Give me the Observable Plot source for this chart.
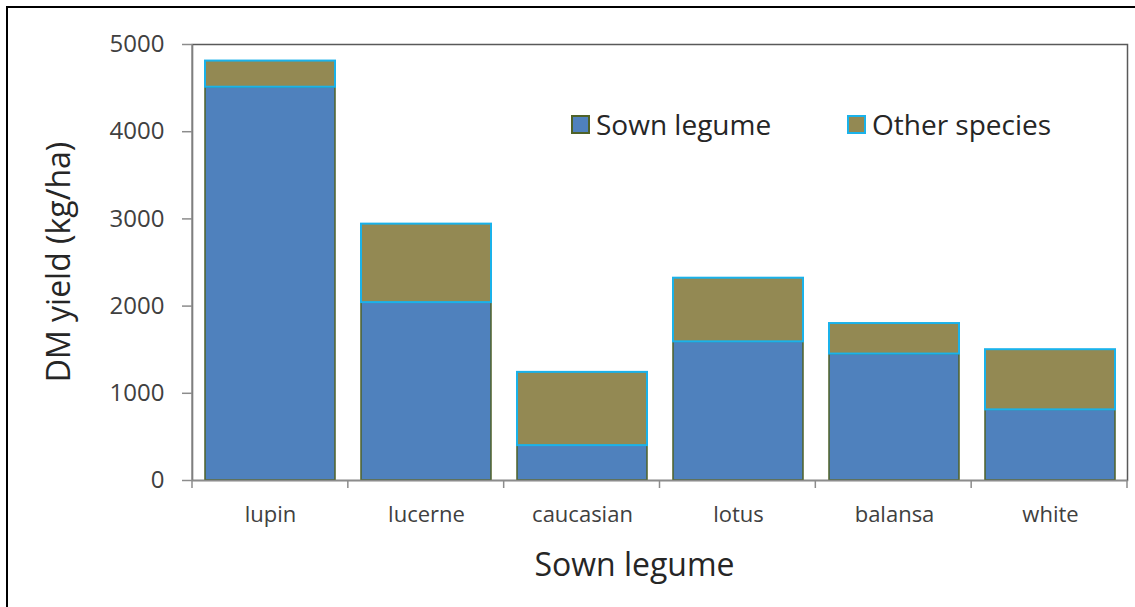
<!DOCTYPE html>
<html>
<head>
<meta charset="utf-8">
<script src="https://cdn.jsdelivr.net/npm/d3@7"></script>
<script src="https://cdn.jsdelivr.net/npm/@observablehq/plot@0.6"></script>
<style>
  body { margin: 0; background: #fff; font-family: "Open Sans", sans-serif; }
  #wrap { position: relative; width: 1135px; height: 607px; overflow: hidden; background: #fff; }
  #outer { position: absolute; left: 6px; top: 6px; width: 1160px; height: 640px; border: 2px solid #000; box-sizing: border-box; pointer-events: none; }
  #chart { position: absolute; left: 0; top: 0; }
  .leg { position: absolute; display: flex; align-items: center; font-size: 28px; color: #262626; white-space: nowrap; }
  .sw { width: 15px; height: 15px; margin-right: 6px; box-sizing: content-box; }
</style>
</head>
<body>
<div id="wrap">
  <div id="chart"></div>
  <div id="outer"></div>
</div>
<script>
const categories = ["lupin", "lucerne", "caucasian", "lotus", "balansa", "white"];
const sownLegume = [4510, 2040, 400, 1590, 1450, 810];
const otherSpecies = [300, 900, 840, 730, 350, 690];
const yTicks = [0, 1000, 2000, 3000, 4000, 5000];
const seriesNames = ["Sown legume", "Other species"];
const fillColors = ["#4F81BD", "#938953"];
const strokeColors = ["#4F6228", "#1AB2EA"];
const xTitle = "Sown legume";
const yTitle = "DM yield (kg/ha)";

// stacked table
const sownRows = categories.map((c, i) => ({cat: c, y1: 0, y2: sownLegume[i]}));
const otherRows = categories.map((c, i) => ({cat: c, y1: sownLegume[i], y2: sownLegume[i] + otherSpecies[i]}));

const chart = Plot.plot({
  width: 1135,
  height: 607,
  marginLeft: 192,
  marginRight: 8,
  marginTop: 44,
  marginBottom: 127,
  style: {fontFamily: '"Open Sans", sans-serif', background: "transparent"},
  x: {domain: categories, paddingInner: 0.167, paddingOuter: 0.08, axis: null},
  y: {domain: [0, 5000], axis: null},
  marks: [
    Plot.frame({stroke: "#595959", strokeWidth: 1.5}),
    Plot.barY(sownRows, {x: "cat", y1: "y1", y2: "y2", fill: fillColors[0], stroke: strokeColors[0], strokeWidth: 1.5}),
    Plot.barY(otherRows, {x: "cat", y1: "y1", y2: "y2", fill: fillColors[1], stroke: strokeColors[1], strokeWidth: 2}),
    Plot.axisY(yTicks, {tickSize: 10, tickPadding: 18, fontSize: 24, tickFormat: d3.format("d"), fill: "#404040", stroke: "#8c8c8c", strokeWidth: 1.5, label: null}),
    Plot.axisX({tickSize: 0, tickPadding: 26, fontSize: 22, fill: "#404040", label: null}),
    Plot.ruleY([0], {stroke: "#8c8c8c", strokeWidth: 1.5})
  ]
});

// left axis line and category boundary ticks from the library's scales
const xs = chart.scale("x");
const ys = chart.scale("y");
const [r0, r1] = xs.range;
const y0 = ys.apply(0), yTop = ys.apply(5000);
const svg = d3.select(chart);
const g = svg.append("g");
g.append("line").attr("x1", r0).attr("x2", r0).attr("y1", yTop).attr("y2", y0)
  .attr("stroke", "#8c8c8c").attr("stroke-width", 1.5);
const n = categories.length;
const bounds = d3.range(n + 1).map(i => r0 + i * (r1 - r0) / n);
g.selectAll("line.b").data(bounds).join("line").attr("class", "b")
  .attr("x1", d => d).attr("x2", d => d).attr("y1", y0).attr("y2", y0 + 8)
  .attr("stroke", "#8c8c8c").attr("stroke-width", 1.5);

// axis titles
svg.append("text").attr("x", (r0 + r1) / 2 - 25).attr("y", 576)
  .attr("text-anchor", "middle").attr("font-size", 32).attr("fill", "#262626")
  .attr("font-family", '"Open Sans", sans-serif').text(xTitle);
svg.append("text").attr("transform", `translate(70,${(yTop + y0) / 2}) rotate(-90)`)
  .attr("text-anchor", "middle").attr("font-size", 32).attr("fill", "#262626")
  .attr("font-family", '"Open Sans", sans-serif').text(yTitle);

document.getElementById("chart").appendChild(chart);

// legend
const legendPos = [[571, 105], [847, 105]];
seriesNames.forEach((name, i) => {
  const d = document.createElement("div");
  d.className = "leg";
  d.style.left = legendPos[i][0] + "px";
  d.style.top = legendPos[i][1] + "px";
  const sw = document.createElement("span");
  sw.className = "sw";
  sw.style.background = fillColors[i];
  sw.style.border = `2px solid ${strokeColors[i]}`;
  d.appendChild(sw);
  const t = document.createElement("span");
  t.textContent = name;
  d.appendChild(t);
  document.getElementById("wrap").appendChild(d);
});
</script>
</body>
</html>
